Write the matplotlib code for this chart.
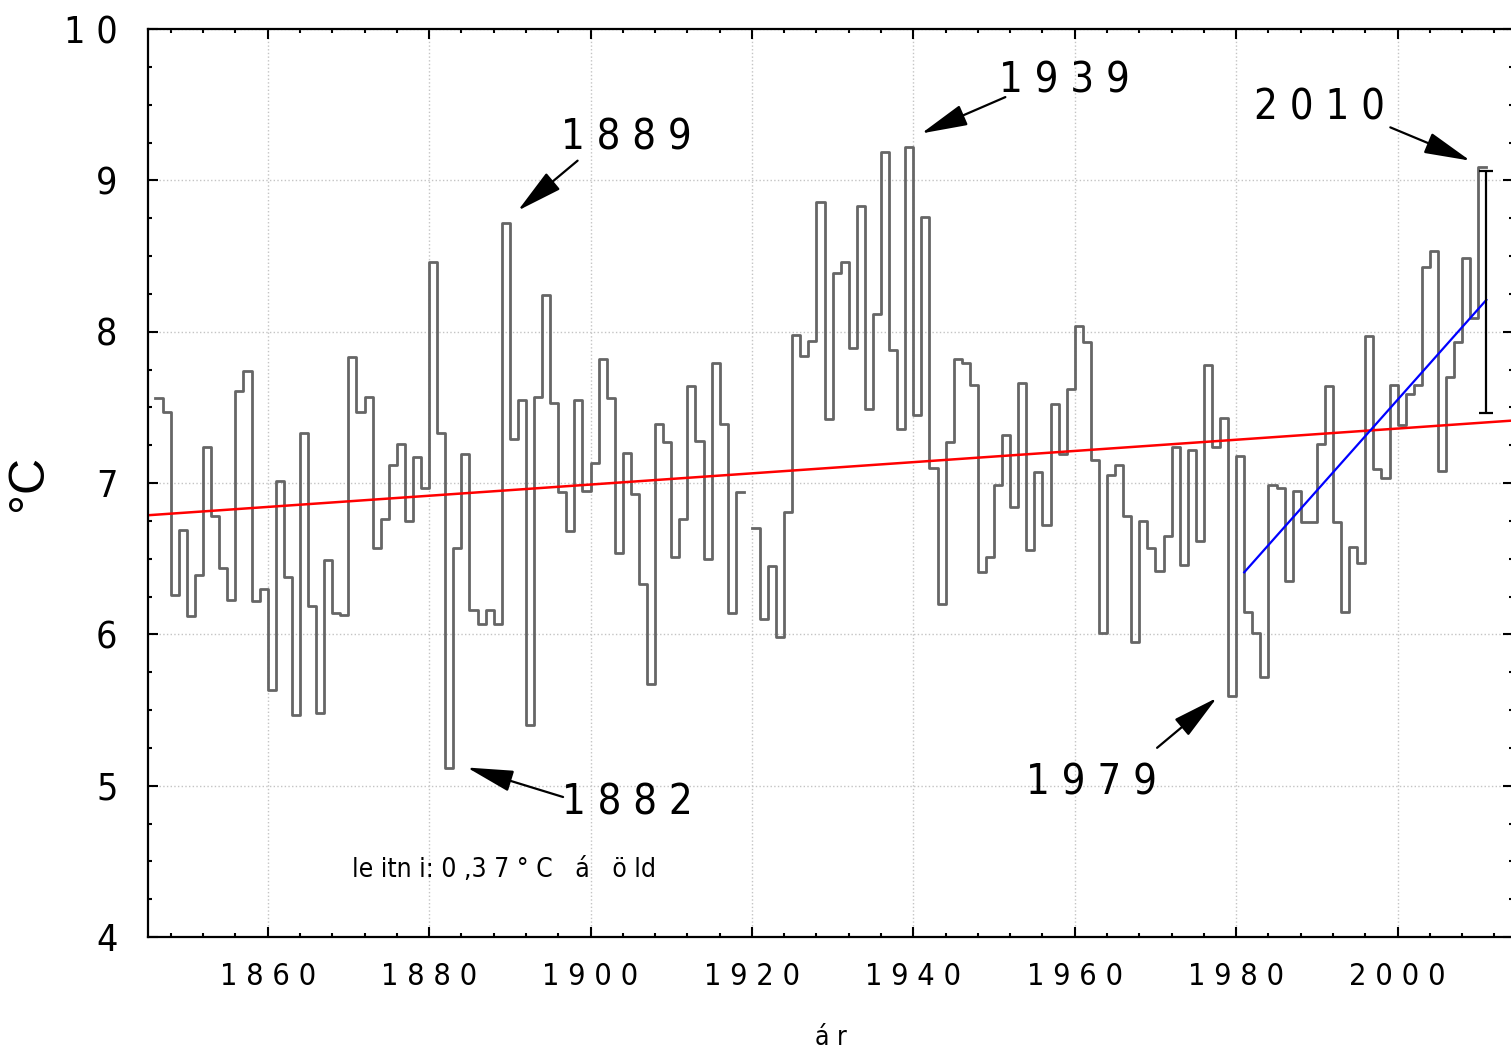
import numpy as np
import matplotlib
matplotlib.use('Agg')
import matplotlib.pyplot as plt
from matplotlib.ticker import MultipleLocator

plt.rcParams['font.family'] = ['DejaVu Sans']
plt.rcParams['font.stretch'] = 'condensed'

# annual mean temperature, 1846-2010 (1919 missing)
years = np.arange(1846, 2011)
temps = [7.56, 7.47, 6.26, 6.69, 6.12, 6.39, 7.24, 6.78, 6.44, 6.23, 7.61, 7.74, 6.22, 6.30, 5.63, 7.01, 6.38, 5.47, 7.33, 6.19, 5.48,
         6.49, 6.14, 6.13, 7.83, 7.47, 7.57, 6.57, 6.76, 7.12, 7.26, 6.75, 7.17, 6.97, 8.46, 7.33, 5.12, 6.57, 7.19, 6.16, 6.07, 6.16,
         6.07, 8.72, 7.29, 7.55, 5.40, 7.57, 8.24, 7.53, 6.94, 6.68, 7.55, 6.95, 7.13, 7.82, 7.56, 6.54, 7.20, 6.93, 6.33, 5.67,
         7.39, 7.27, 6.51, 6.76, 7.64, 7.28, 6.50, 7.79, 7.39, 6.14, 6.94, np.nan,
         6.70, 6.10, 6.45, 5.98, 6.81, 7.98, 7.84, 7.94, 8.86, 7.42, 8.39, 8.46, 7.89, 8.83, 7.49, 8.12, 9.19, 7.88, 7.36, 9.22,
         7.45, 8.76, 7.10, 6.20, 7.27, 7.82,
         7.79, 7.65, 6.41, 6.51, 6.99, 7.32, 6.84, 7.66, 6.56, 7.07, 6.72, 7.52, 7.19, 7.62, 8.04, 7.93, 7.15, 6.01, 7.05, 7.12,
         6.78, 5.95, 6.75, 6.57, 6.42, 6.65, 7.24, 6.46, 7.22, 6.62, 7.78, 7.24, 7.43, 5.59, 7.18, 6.15, 6.01, 5.72, 6.99, 6.97,
         6.35, 6.95, 6.74, 6.74, 7.26, 7.64, 6.74, 6.15, 6.58, 6.47, 7.97, 7.09, 7.03, 7.65, 7.38, 7.59, 7.65, 8.43, 8.53, 7.08,
         7.70, 7.93, 8.49, 8.09, 9.09]
temps = np.array(temps)

# long-term linear trend (0.37 C / century)
trend_x0, trend_y0, trend_slope = 1846, 6.79, 0.0037
# recent trend 1981-2010
recent_x = [1981, 2011]
recent_y = [6.41, 8.21]
# range bar next to 2010
bar_x, bar_lo, bar_hi = 2010.9, 7.46, 9.06

# labelled years: (label, text pos, arrow tail, arrow head)
notes = [
    ('1889', (1904.5, 9.28), (1898.4, 9.13), (1891.0, 8.80)),
    ('1939', (1958.7, 9.66), (1951.4, 9.55), (1941.0, 9.31)),
    ('2010', (1990.3, 9.48), (1999.1, 9.35), (2009.0, 9.13)),
    ('1882', (1904.6, 4.89), (1896.6, 4.925), (1884.7, 5.12)),
    ('1979', (1962.1, 5.02), (1970.2, 5.25), (1977.6, 5.58)),
]

fig = plt.figure(figsize=(15.11, 10.51), dpi=100)
ax = fig.add_axes([148/1511, 1 - 937/1051, (1513-148)/1511, (937-29)/1051])

ax.step(np.append(years, years[-1] + 1), np.append(temps, temps[-1]), where='post',
        color='#666666', lw=2.0)
ax.axline((trend_x0, trend_y0), slope=trend_slope, color='red', lw=1.8)
ax.plot(recent_x, recent_y, color='blue', lw=1.6)
ax.errorbar([bar_x], [(bar_lo + bar_hi) / 2], yerr=[(bar_hi - bar_lo) / 2], color='black',
            lw=1.6, capsize=5, capthick=1.6)

for lab, tpos, tail, head in notes:
    ax.text(tpos[0], tpos[1], ' '.join(lab), fontsize=30, ha='center', va='center')
    ax.annotate('', xy=head, xytext=tail,
                arrowprops=dict(arrowstyle='-|>,head_length=1.2,head_width=0.28', mutation_scale=24,
                                color='black', lw=1.6, shrinkA=0, shrinkB=0))

ax.text(1870.5, 4.44, 'le itn i: 0 ,3 7 ° C   á   ö ld', fontsize=19, ha='left', va='center')

ax.set_xlim(1845.17, 2014.3)
ax.set_ylim(4, 10)
xt = np.arange(1860, 2001, 20)
ax.set_xticks(xt)
ax.set_xticklabels([' '.join(str(v)) for v in xt])
yt = np.arange(4, 11)
ax.set_yticks(yt)
ax.set_yticklabels([' '.join(str(v)) for v in yt])
ax.xaxis.set_minor_locator(MultipleLocator(4))
ax.yaxis.set_minor_locator(MultipleLocator(0.25))
ax.tick_params(which='both', direction='in', top=True, right=True, width=1.5)
ax.tick_params(which='major', length=7)
ax.tick_params(which='minor', length=3)
ax.tick_params(axis='x', labelsize=22, pad=18)
ax.tick_params(axis='y', labelsize=27, pad=22)
for s in ax.spines.values():
    s.set_linewidth(1.6)
ax.grid(True, which='major', color='#c4c4c4', ls=':', lw=1.0)

ax.set_xlabel('á r', fontsize=19, va='top')
ax.xaxis.set_label_coords(0.5, -0.097)
ax.set_ylabel('°C', fontsize=36, fontstretch='normal', family=['Liberation Sans', 'DejaVu Sans'])
ax.yaxis.set_label_coords(-0.07, 0.5)

fig.savefig('out.png', dpi=100)
